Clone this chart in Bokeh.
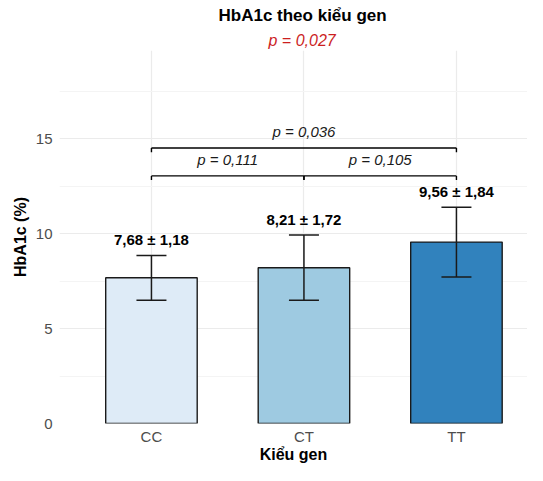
from bokeh.plotting import figure
from bokeh.models import (Range1d, ColumnDataSource, Whisker, TeeHead,
                          FixedTicker, Title)
from bokeh.core.properties import value
from bokeh.embed import file_html
from bokeh.resources import INLINE

# ---- data ----
genotypes = ["CC", "CT", "TT"]
means = [7.68, 8.21, 9.56]
sds = [1.18, 1.72, 1.84]
bar_colors = ["#deebf7", "#9ecae1", "#3182bd"]

pair_a = ["CC", "CC", "CT"]
pair_b = ["TT", "CT", "TT"]
pair_p = ["0,036", "0,111", "0,105"]
overall_p = "0,027"

y_ticks = [0, 5, 10, 15]
y_minor = [2.5, 7.5, 12.5, 17.5]

FONT = "Liberation Sans"

def fmt(v):
    return f"{v:.2f}".replace(".", ",")

xpos = [i + 1 for i in range(len(genotypes))]
pos = dict(zip(genotypes, xpos))
lower = [m - s for m, s in zip(means, sds)]
upper = [m + s for m, s in zip(means, sds)]
labels = [f"{fmt(m)} ± {fmt(s)}" for m, s in zip(means, sds)]
label_y = [u + 0.82 for u in upper]

src = ColumnDataSource(dict(x=xpos, mean=means, lower=lower, upper=upper,
                            color=bar_colors, label=labels, label_y=label_y))

p = figure(width=527, height=465, output_backend="svg", toolbar_location=None,
           title="HbA1c theo kiểu gen",
           x_range=Range1d(0.397, 3.466), y_range=Range1d(0, 19.66),
           min_border_left=59, min_border_right=0, min_border_top=0,
           min_border_bottom=0)

p.outline_line_color = None
p.background_fill_color = "white"

# main title
p.title.align = "left"
p.title.offset = 159
p.title.text_font = FONT
p.title.text_font_size = "17px"
p.title.text_font_style = "bold"
p.title.text_color = "black"
p.title.standoff = 6

# subtitle
p.add_layout(Title(text=f"p = {overall_p}", align="left", offset=209, text_font=FONT,
                   text_font_size="16px", text_font_style="italic",
                   text_color="#cc1f1f", standoff=4), "above")

# bars
p.vbar(x="x", top="mean", bottom=0, width=0.6, fill_color="color",
       line_color="#1a1a1a", line_width=1.4, source=src)

# error bars
wh = Whisker(base="x", lower="lower", upper="upper", source=src,
             line_color="#1a1a1a", line_width=1.5, level="annotation",
             upper_head=TeeHead(size=30, line_color="#1a1a1a", line_width=1.5),
             lower_head=TeeHead(size=30, line_color="#1a1a1a", line_width=1.5))
p.add_layout(wh)

# value labels
p.text(x="x", y="label_y", text="label", source=src, text_align="center",
       text_baseline="middle", text_font=value(FONT), text_font_size="15px",
       text_font_style="bold", text_color="black")

# significance brackets
base_y = 13.05
step = 1.47
tick = 0.22
bx0, bx1, by, tx, ty0, ty1, lx, ly, lt = [], [], [], [], [], [], [], [], []
for a, b, pv in zip(pair_a, pair_b, pair_p):
    xa, xb = pos[a], pos[b]
    level = 1 if abs(xb - xa) > 1 else 0
    yb = base_y + level * step
    bx0.append(xa); bx1.append(xb); by.append(yb)
    for xx in (xa, xb):
        tx.append(xx); ty0.append(yb); ty1.append(yb - tick)
    lx.append((xa + xb) / 2); ly.append(yb + 0.86); lt.append(f"p = {pv}")

p.segment(x0=bx0, x1=bx1, y0=by, y1=by, line_color="black", line_width=1.4)
p.segment(x0=tx, x1=tx, y0=ty0, y1=ty1, line_color="black", line_width=1.4)
p.text(x=lx, y=ly, text=lt, text_align="center", text_baseline="middle",
       text_font=value(FONT), text_font_size="15px", text_font_style="italic",
       text_color="#1a1a1a")

# axes
p.xaxis.ticker = FixedTicker(ticks=xpos)
p.xaxis.major_label_overrides = {x: g for x, g in zip(xpos, genotypes)}
p.yaxis.ticker = FixedTicker(ticks=y_ticks, minor_ticks=y_minor)
for ax in (p.xaxis[0], p.yaxis[0]):
    ax.axis_line_color = None
    ax.major_tick_line_color = None
    ax.minor_tick_line_color = None
    ax.major_tick_out = 0
    ax.major_tick_in = 0
    ax.minor_tick_out = 0
    ax.minor_tick_in = 0
    ax.major_label_text_font = FONT
    ax.major_label_text_font_size = "15px"
    ax.major_label_text_color = "#4d4d4d"
    ax.axis_label_text_font = FONT
    ax.axis_label_text_font_size = "16px"
    ax.axis_label_text_font_style = "bold"
    ax.axis_label_text_color = "black"
p.yaxis.axis_label = "HbA1c (%)"
p.xaxis.axis_label = "Kiểu gen"
p.yaxis.major_label_standoff = 7
p.yaxis.axis_label_standoff = 4
p.xaxis.major_label_standoff = 4
p.xaxis.axis_label_standoff = -2

# grid
p.xgrid.grid_line_color = "#ebebeb"
p.xgrid.grid_line_width = 1.2
p.ygrid.grid_line_color = "#ebebeb"
p.ygrid.grid_line_width = 1.2
p.ygrid.minor_grid_line_color = "#f4f4f4"
p.ygrid.minor_grid_line_width = 1

open("out.html", "w").write(file_html(p, INLINE))
